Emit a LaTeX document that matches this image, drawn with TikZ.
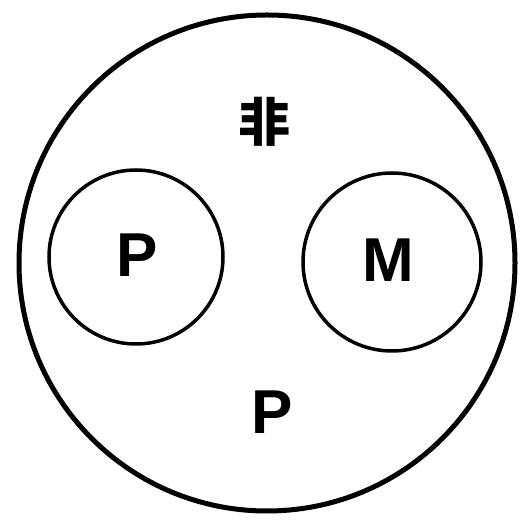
\documentclass[tikz,border=0pt]{standalone}
\usepackage{fontspec}
\setsansfont{Liberation Sans}
\newfontfamily\cjk{Noto Sans CJK SC}
\begin{document}
\begin{tikzpicture}[x=1pt, y=1pt, line width=3.5pt,
  lbl/.style={font=\sffamily\bfseries\fontsize{62}{62}\selectfont, inner sep=0pt}]
  \useasboundingbox (0,0) rectangle (520,525);
  % outer and inner circles
  \draw[line width=5pt] (267,262) circle (248pt);
  \draw (136,268) circle (87pt);
  \draw (392,263) circle (89pt);
  % labels
  \node[font=\cjk\bfseries\fontsize{52}{52}\selectfont, inner sep=0pt] (fei) at (264,403) {非};
  \node[lbl] (pin) at (137,270) {P};
  \node[lbl] (min) at (388,265) {M};
  \node[lbl] (pout) at (272,113) {P};
\end{tikzpicture}
\end{document}
